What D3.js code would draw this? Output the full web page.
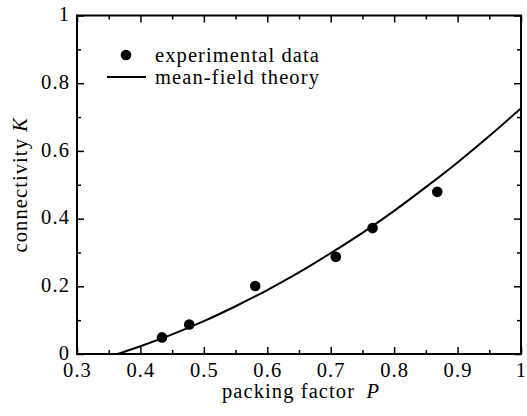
<!DOCTYPE html>
<html>
<head>
<meta charset="utf-8">
<script src="https://cdn.jsdelivr.net/npm/d3@7"></script>
<style>
  html, body { margin: 0; padding: 0; background: #fff; }
  svg { display: block; }
</style>
</head>
<body>
<svg id="chart" width="527" height="416"></svg>
<script>
// Measured connectivity K against packing factor P
const expP = [0.434, 0.477, 0.581, 0.708, 0.766, 0.868];
const expK = [0.049, 0.087, 0.201, 0.287, 0.372, 0.479];

// Mean-field theory curve, sampled along P
const theoryP = [0.364, 0.40, 0.45, 0.50, 0.55, 0.60, 0.65, 0.70, 0.75, 0.80, 0.85, 0.90, 0.95, 1.00];
const theoryK = [0.000, 0.023, 0.058, 0.097, 0.141, 0.189, 0.241, 0.298, 0.358, 0.423, 0.493, 0.566, 0.644, 0.726];

// Axis ticks
const xMajor = [0.3, 0.4, 0.5, 0.6, 0.7, 0.8, 0.9, 1.0];
const xLabels = ["0.3", "0.4", "0.5", "0.6", "0.7", "0.8", "0.9", "1"];
const xMinor = [0.35, 0.45, 0.55, 0.65, 0.75, 0.85, 0.95];
const yMajor = [0, 0.2, 0.4, 0.6, 0.8, 1.0];
const yLabels = ["0", "0.2", "0.4", "0.6", "0.8", "1"];
const yMinor = [0.1, 0.3, 0.5, 0.7, 0.9];

const legendItems = ["experimental data", "mean-field theory"];

const svg = d3.select("#chart");
const plotL = 77, plotR = 521, plotT = 15.5, plotB = 354;

const x = d3.scaleLinear().domain([0.3, 1.0]).range([plotL, plotR]);
const y = d3.scaleLinear().domain([0, 1.0]).range([plotB, plotT]);

const fontSize = "20.5px";
const spacing = "1.1px";
const serif = "'Liberation Serif'";

// Shared text style
function txt(sel) {
  return sel.style("font-family", serif)
    .style("font-size", fontSize)
    .style("letter-spacing", spacing)
    .attr("fill", "#000");
}

function styleAxis(g) {
  g.attr("font-family", null).attr("font-size", null);
  g.select(".domain").remove();
  g.selectAll(".tick line").attr("stroke", "#000").attr("stroke-width", 1.5);
  g.selectAll("text").call(txt);
}

const fmtX = d => xLabels[xMajor.findIndex(v => Math.abs(v - d) < 1e-9)];
const fmtY = d => yLabels[yMajor.findIndex(v => Math.abs(v - d) < 1e-9)];

// Bottom axis: labelled major ticks pointing inward, plus minor ticks
svg.append("g").attr("transform", `translate(0,${plotB})`)
  .call(d3.axisBottom(x).tickValues(xMajor).tickFormat(fmtX).tickSizeInner(-7).tickSizeOuter(0).tickPadding(8))
  .call(styleAxis);
svg.append("g").attr("transform", `translate(0,${plotB})`)
  .call(d3.axisBottom(x).tickValues(xMinor).tickFormat("").tickSizeInner(-4).tickSizeOuter(0))
  .call(styleAxis);

// Top axis: ticks only
svg.append("g").attr("transform", `translate(0,${plotT})`)
  .call(d3.axisTop(x).tickValues(xMajor).tickFormat("").tickSizeInner(-7).tickSizeOuter(0))
  .call(styleAxis);
svg.append("g").attr("transform", `translate(0,${plotT})`)
  .call(d3.axisTop(x).tickValues(xMinor).tickFormat("").tickSizeInner(-4).tickSizeOuter(0))
  .call(styleAxis);

// Left axis (labels sit a touch above the tick centre)
svg.append("g").attr("transform", `translate(${plotL},0)`)
  .call(d3.axisLeft(y).tickValues(yMajor).tickFormat(fmtY).tickSizeInner(-7).tickSizeOuter(0).tickPadding(7))
  .call(styleAxis)
  .call(g => g.selectAll("text").attr("dy", "0.26em"));
svg.append("g").attr("transform", `translate(${plotL},0)`)
  .call(d3.axisLeft(y).tickValues(yMinor).tickFormat("").tickSizeInner(-4).tickSizeOuter(0))
  .call(styleAxis);

// Right axis: ticks only
svg.append("g").attr("transform", `translate(${plotR},0)`)
  .call(d3.axisRight(y).tickValues(yMajor).tickFormat("").tickSizeInner(-7).tickSizeOuter(0))
  .call(styleAxis);
svg.append("g").attr("transform", `translate(${plotR},0)`)
  .call(d3.axisRight(y).tickValues(yMinor).tickFormat("").tickSizeInner(-4).tickSizeOuter(0))
  .call(styleAxis);

// Frame
svg.append("rect")
  .attr("x", plotL).attr("y", plotT)
  .attr("width", plotR - plotL).attr("height", plotB - plotT)
  .attr("fill", "none").attr("stroke", "#000").attr("stroke-width", 2);

// Theory curve
const line = d3.line().x(d => x(d[0])).y(d => y(d[1])).curve(d3.curveMonotoneX);
svg.append("path")
  .datum(theoryP.map((p, i) => [p, theoryK[i]]))
  .attr("d", line)
  .attr("fill", "none").attr("stroke", "#000").attr("stroke-width", 2);

// Experimental points
svg.append("g").selectAll("circle")
  .data(expP.map((p, i) => [p, expK[i]]))
  .join("circle")
  .attr("cx", d => x(d[0])).attr("cy", d => y(d[1]))
  .attr("r", 5.3).attr("fill", "#000");

// Legend
const leg = svg.append("g");
leg.append("circle").attr("cx", 126).attr("cy", 55).attr("r", 5.3).attr("fill", "#000");
leg.append("line").attr("x1", 107).attr("x2", 146).attr("y1", 77).attr("y2", 77)
  .attr("stroke", "#000").attr("stroke-width", 2);
leg.selectAll("text.item")
  .data(legendItems)
  .join("text")
  .attr("class", "item")
  .attr("x", 155)
  .attr("y", (d, i) => 55 + i * 22)
  .attr("dy", "0.32em")
  .call(txt)
  .text(d => d);

// Axis titles
const xt = svg.append("text")
  .attr("x", (plotL + plotR) / 2 + 2).attr("y", 398)
  .attr("text-anchor", "middle")
  .call(txt);
xt.append("tspan").text("packing factor\u2002");
xt.append("tspan").style("font-style", "italic").text("P");

const yt = svg.append("text")
  .attr("transform", `translate(27,${(plotT + plotB) / 2}) rotate(-90)`)
  .attr("text-anchor", "middle")
  .call(txt);
yt.append("tspan").text("connectivity ");
yt.append("tspan").style("font-style", "italic").text("K");
</script>
</body>
</html>
